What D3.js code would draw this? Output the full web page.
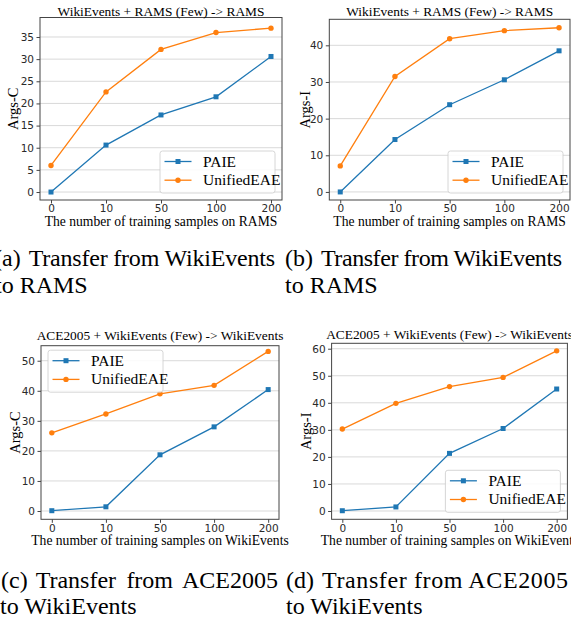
<!DOCTYPE html>
<html><head><meta charset="utf-8">
<script src="https://cdn.jsdelivr.net/npm/d3@7"></script>
<style>
html,body{margin:0;padding:0;background:#fff;overflow:hidden}
svg{display:block}
</style></head><body>
<svg id="fig" width="571" height="621"></svg>
<script>
// ---------------- data ----------------
const categories = ["0", "10", "50", "100", "200"];
const seriesNames = ["PAIE", "UnifiedEAE"];

const ramsArgsC_PAIE    = [0.0, 10.6, 17.4, 21.5, 30.6];
const ramsArgsC_Unified = [6.0, 22.6, 32.2, 36.0, 37.0];
const ramsArgsI_PAIE    = [0.0, 14.3, 23.8, 30.6, 38.5];
const ramsArgsI_Unified = [7.1, 31.5, 41.8, 44.0, 44.8];
const wikiArgsC_PAIE    = [0.1, 1.4, 18.7, 28.0, 40.4];
const wikiArgsC_Unified = [26.0, 32.3, 39.0, 41.8, 53.1];
const wikiArgsI_PAIE    = [0.1, 1.5, 21.3, 30.5, 45.1];
const wikiArgsI_Unified = [30.3, 39.8, 46.0, 49.4, 59.2];

const ticksA = [0, 5, 10, 15, 20, 25, 30, 35];
const ticksB = [0, 10, 20, 30, 40];
const ticksC = [0, 10, 20, 30, 40, 50];
const ticksD = [0, 10, 20, 30, 40, 50, 60];

const titles = ["WikiEvents + RAMS (Few) -> RAMS", "WikiEvents + RAMS (Few) -> RAMS",
                "ACE2005 + WikiEvents (Few) -> WikiEvents", "ACE2005 + WikiEvents (Few) -> WikiEvents"];
const yLabels = ["Args-C", "Args-I", "Args-C", "Args-I"];
const xLabels = ["The number of training samples on RAMS", "The number of training samples on RAMS",
                 "The number of training samples on WikiEvents", "The number of training samples on WikiEvents"];
const captionLabels = ["(a)", "(b)", "(c)", "(d)"];
const captionLine1 = ["Transfer from WikiEvents", "Transfer from WikiEvents",
                      "Transfer from ACE2005", "Transfer from ACE2005"];
const captionLine2 = ["to RAMS", "to RAMS", "to WikiEvents", "to WikiEvents"];

const colors = { PAIE: "#1f77b4", UnifiedEAE: "#ff7f0e" };

// ---------------- layout ----------------
const serif = "'Liberation Serif','Times New Roman',serif";
const sans = "'DejaVu Sans',sans-serif";

const panels = [
  { values: [ramsArgsC_PAIE, ramsArgsC_Unified], ticks: ticksA, yDomain: [-1.8, 39.4],
    x0: 40, x1: 282, y0: 17.5, y1: 200, titleY: 16, xLabelY: 225.5, yLabelX: 13.5, legend: "lr",
    cap: { x1: -6, end1: 275, b1: 266, x2: -5, b2: 293, justify: false } },
  { values: [ramsArgsI_PAIE, ramsArgsI_Unified], ticks: ticksB, yDomain: [-2.2, 47.1],
    x0: 329.3, x1: 570, y0: 19.3, y1: 200, titleY: 16, xLabelY: 226, yLabelX: 305, legend: "lr",
    cap: { x1: 285, end1: 562, b1: 266, x2: 285, b2: 293, justify: false } },
  { values: [wikiArgsC_PAIE, wikiArgsC_Unified], ticks: ticksC, yDomain: [-2.76, 55.0],
    x0: 41, x1: 279, y0: 345.7, y1: 519.3, titleY: 339.5, xLabelY: 544.5, yLabelX: 15, legend: "ul",
    cap: { x1: 1, end1: 278, b1: 587.5, x2: 0, b2: 614, justify: true } },
  { values: [wikiArgsI_PAIE, wikiArgsI_Unified], ticks: ticksD, yDomain: [-3.07, 62.0],
    x0: 331.6, x1: 567.4, y0: 343.3, y1: 519.3, titleY: 339, xLabelY: 545, yLabelX: 306, legend: "lr",
    cap: { x1: 286, end1: 568, b1: 587.5, x2: 286, b2: 614, justify: false } }
];

const svg = d3.select("#fig");

function drawPanel(p, idx) {
  const g = svg.append("g");
  const x = d3.scalePoint().domain(categories).range([p.x0, p.x1]).padding(0.2);
  const y = d3.scaleLinear().domain(p.yDomain).range([p.y1, p.y0]);

  // grid
  g.append("g").selectAll("line").data(p.ticks).join("line")
    .attr("x1", p.x0).attr("x2", p.x1)
    .attr("y1", d => y(d)).attr("y2", d => y(d))
    .attr("stroke", "#d9d9d9").attr("stroke-width", 1);

  // axes
  const ya = g.append("g").attr("transform", `translate(${p.x0},0)`)
    .call(d3.axisLeft(y).tickValues(p.ticks).tickSize(3.5).tickPadding(2.5).tickFormat(d3.format("d")));
  const xa = g.append("g").attr("transform", `translate(0,${p.y1})`)
    .call(d3.axisBottom(x).tickSize(3.5).tickPadding(1.5));
  [ya, xa].forEach(a => {
    a.select(".domain").remove();
    a.selectAll(".tick line").attr("stroke", "#444");
    a.selectAll(".tick text").attr("font-family", sans).attr("font-size", 10.5).attr("fill", "#2a2a2a");
  });

  // series
  seriesNames.forEach((name, si) => {
    const vals = p.values[si];
    const line = d3.line().x((d, i) => x(categories[i])).y(d => y(d));
    g.append("path").datum(vals).attr("d", line)
      .attr("fill", "none").attr("stroke", colors[name]).attr("stroke-width", 1.3);
    if (si === 0) {
      g.append("g").selectAll("rect").data(vals).join("rect")
        .attr("x", (d, i) => x(categories[i]) - 2.5).attr("y", d => y(d) - 2.5)
        .attr("width", 5).attr("height", 5).attr("fill", colors[name]);
    } else {
      g.append("g").selectAll("circle").data(vals).join("circle")
        .attr("cx", (d, i) => x(categories[i])).attr("cy", d => y(d))
        .attr("r", 2.7).attr("fill", colors[name]);
    }
  });

  // frame
  g.append("rect").attr("x", p.x0).attr("y", p.y0)
    .attr("width", p.x1 - p.x0).attr("height", p.y1 - p.y0)
    .attr("fill", "none").attr("stroke", "#444").attr("stroke-width", 1);

  // title
  const cx = (p.x0 + p.x1) / 2;
  g.append("text").attr("x", cx).attr("y", p.titleY).attr("text-anchor", "middle")
    .attr("font-family", serif).attr("font-size", 13.4).text(titles[idx]);
  // x label
  g.append("text").attr("x", cx).attr("y", p.xLabelY).attr("text-anchor", "middle")
    .attr("font-family", serif).attr("font-size", 13.6).text(xLabels[idx]);
  // y label
  const cy = (p.y0 + p.y1) / 2;
  g.append("text").attr("transform", `translate(${p.yLabelX + 4.5},${cy}) rotate(-90)`)
    .attr("text-anchor", "middle").attr("font-family", serif).attr("font-size", 14.5).text(yLabels[idx]);

  // legend
  const lw = 115, lh = 42, inset = 7;
  const lx = p.legend === "lr" ? p.x1 - inset - lw : p.x0 + inset;
  const ly = p.legend === "lr" ? p.y1 - inset - lh : p.y0 + 4.5;
  const lg = g.append("g").attr("transform", `translate(${lx},${ly})`);
  lg.append("rect").attr("width", lw).attr("height", lh).attr("rx", 2.5)
    .attr("fill", "#fff").attr("fill-opacity", 0.85).attr("stroke", "#cccccc").attr("stroke-width", 0.8);
  seriesNames.forEach((name, si) => {
    const ry = 10.5 + si * 18.7;
    lg.append("line").attr("x1", 4.5).attr("x2", 31.5).attr("y1", ry).attr("y2", ry)
      .attr("stroke", colors[name]).attr("stroke-width", 1.3);
    if (si === 0) lg.append("rect").attr("x", 18 - 2.5).attr("y", ry - 2.5).attr("width", 5).attr("height", 5).attr("fill", colors[name]);
    else lg.append("circle").attr("cx", 18).attr("cy", ry).attr("r", 2.7).attr("fill", colors[name]);
    lg.append("text").attr("x", 43).attr("y", ry + 5).attr("font-family", serif).attr("font-size", 15.5).text(name);
  });

  // caption: label, gap, then rest fitted to the column end
  const c = p.cap, fs = 24, gap = 8;
  const lab = svg.append("text").attr("x", c.x1).attr("y", c.b1)
    .attr("font-family", serif).attr("font-size", fs).text(captionLabels[idx]);
  const restX = c.x1 + lab.node().getComputedTextLength() + gap;
  const t1 = svg.append("text").attr("x", restX).attr("y", c.b1)
    .attr("font-family", serif).attr("font-size", fs).text(captionLine1[idx]);
  const nat = t1.node().getComputedTextLength();
  const target = c.end1 - restX;
  if (c.justify && target >= nat) {
    const nSp = (captionLine1[idx].match(/ /g) || []).length;
    t1.attr("word-spacing", (target - nat) / nSp);
  } else {
    t1.attr("textLength", target).attr("lengthAdjust", "spacing");
  }
  svg.append("text").attr("x", c.x2).attr("y", c.b2)
    .attr("font-family", serif).attr("font-size", fs).text(captionLine2[idx]);
}

panels.forEach(drawPanel);
</script>
</body></html>
